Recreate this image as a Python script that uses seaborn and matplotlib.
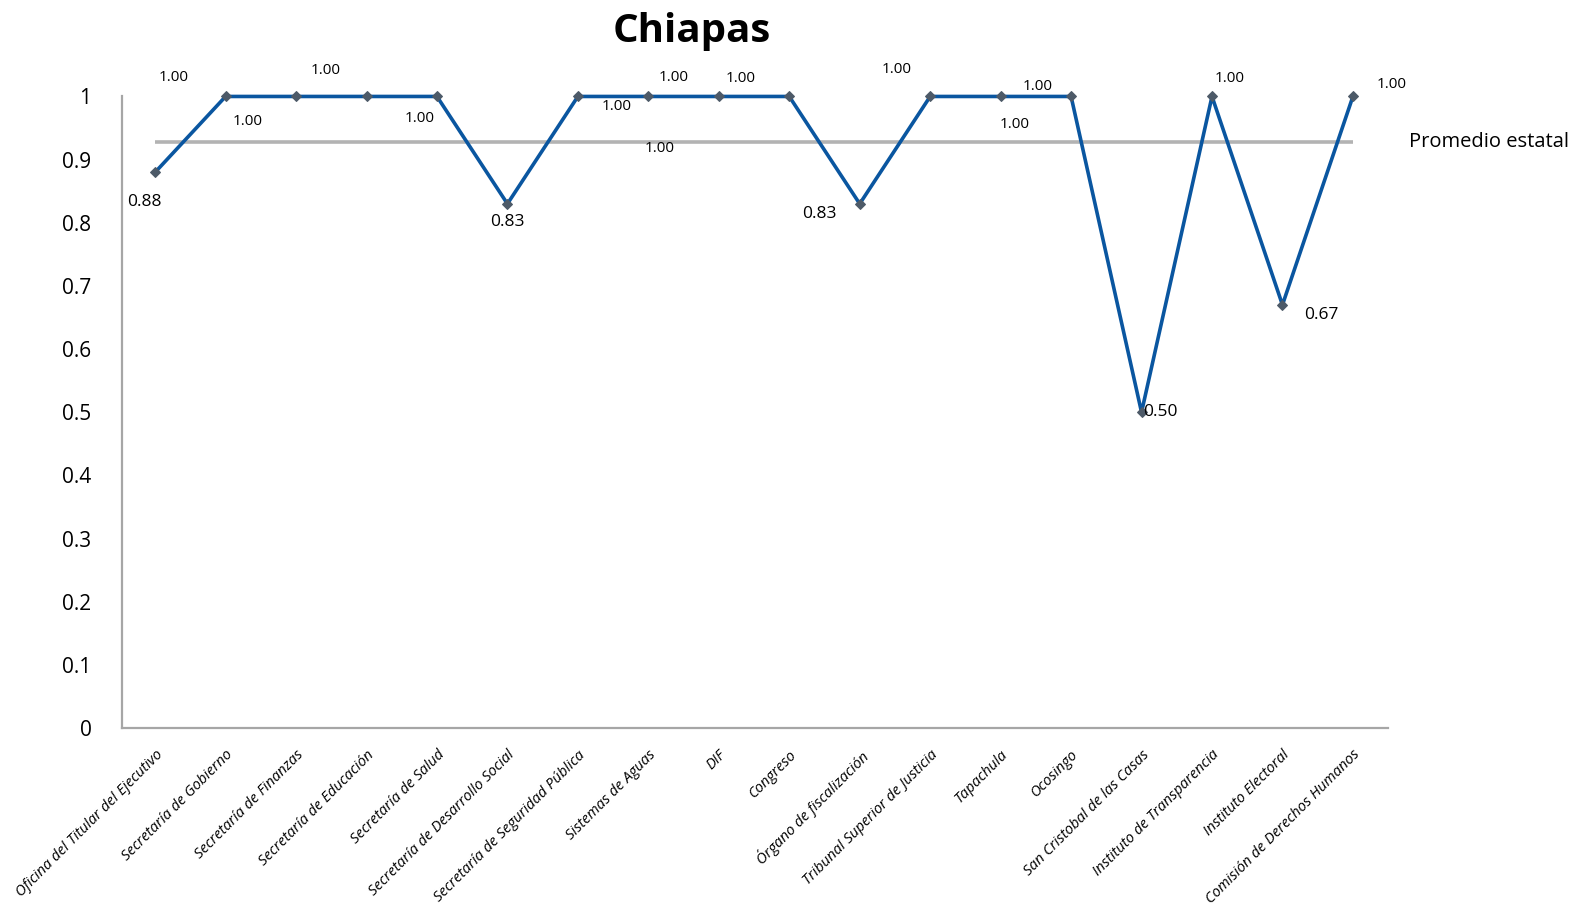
import numpy as np
import pandas as pd
import matplotlib
matplotlib.use('Agg')
import matplotlib.pyplot as plt
import seaborn as sns

# Data
dependencias = [
    'Oficina del Titular del Ejecutivo', 'Secretaría de Gobierno', 'Secretaría de Finanzas',
    'Secretaría de Educación', 'Secretaría de Salud', 'Secretaría de Desarrollo Social',
    'Secretaría de Seguridad Pública', 'Sistemas de Aguas', 'DIF', 'Congreso',
    'Órgano de fiscalización', 'Tribunal Superior de Justicia', 'Tapachula', 'Ocosingo',
    'San Cristobal de las Casas', 'Instituto de Transparencia', 'Instituto Electoral',
    'Comisión de Derechos Humanos',
]
valores = [0.88, 1.00, 1.00, 1.00, 1.00, 0.83, 1.00, 1.00, 1.00, 1.00,
           0.83, 1.00, 1.00, 1.00, 0.50, 1.00, 0.67, 1.00]
yticks = [0, 0.1, 0.2, 0.3, 0.4, 0.5, 0.6, 0.7, 0.8, 0.9, 1]

# label offsets in pixels (dx, dy), like the scattered excel labels
label_offsets = [(-11, -30), (-52, 19), (-48, -25), (-41, 26), (-17, -22), (0, -18),
                 (39, -10), (11, -52), (-45, 19), (-49, 18), (-40, -10), (-34, 27),
                 (14, -28), (-33, 10), (19, 0), (18, 18), (39, -10), (39, 12)]

df = pd.DataFrame({'pos': np.arange(len(dependencias)), 'valor': valores})
promedio = np.mean(valores)

sns.set_style('white')
plt.rcParams['font.family'] = ['Open Sans', 'DejaVu Sans']
plt.rcParams['text.color'] = 'black'
plt.rcParams['xtick.color'] = 'black'
plt.rcParams['ytick.color'] = 'black'

fig = plt.figure(figsize=(15.93, 9.10), dpi=100)
ax = fig.add_axes([0.0766, 0.2, 0.7948, 0.694])

ax.hlines(promedio, 0, len(valores) - 1, color='#b3b3b3', linewidth=2.6, zorder=1)
sns.lineplot(data=df, x='pos', y='valor', ax=ax, color='#0a56a0', linewidth=2.6,
             marker='D', markersize=5, markerfacecolor='#4d5a68',
             markeredgecolor='#4d5a68', zorder=3, clip_on=False)

for i, (v, off) in enumerate(zip(valores, label_offsets)):
    fs = 11 if v == 1 else 12.5
    ax.annotate(f'{v:.2f}', (i, v), xytext=off, textcoords='offset pixels',
                ha='center', va='center', fontsize=fs, color='black')

ax.text(len(valores) - 1 + 0.8, promedio, 'Promedio estatal', ha='left', va='center',
        fontsize=14.5, color='black', clip_on=False)

ax.set_xlim(-0.47, len(valores) - 0.5)
ax.set_ylim(0, 1)
ax.set_yticks(yticks)
ax.set_yticklabels([f'{t:g}' for t in yticks], fontsize=15)
ax.set_xticks(df['pos'])
ax.set_xticklabels(dependencias, rotation=45, ha='right', rotation_mode='anchor',
                   fontsize=10.6, fontstyle='italic')
ax.tick_params(axis='y', length=0, pad=22)
ax.tick_params(axis='x', length=0, pad=14)
ax.set_xlabel('')
ax.set_ylabel('')

for s in ['top', 'right']:
    ax.spines[s].set_visible(False)
for s in ['left', 'bottom']:
    ax.spines[s].set_color('#a6a6a6')
    ax.spines[s].set_linewidth(1.6)

fig.text(0.434, 0.965, 'Chiapas', ha='center', va='center', fontsize=29,
         fontweight='bold', color='black')

fig.savefig('out.png', dpi=100)
